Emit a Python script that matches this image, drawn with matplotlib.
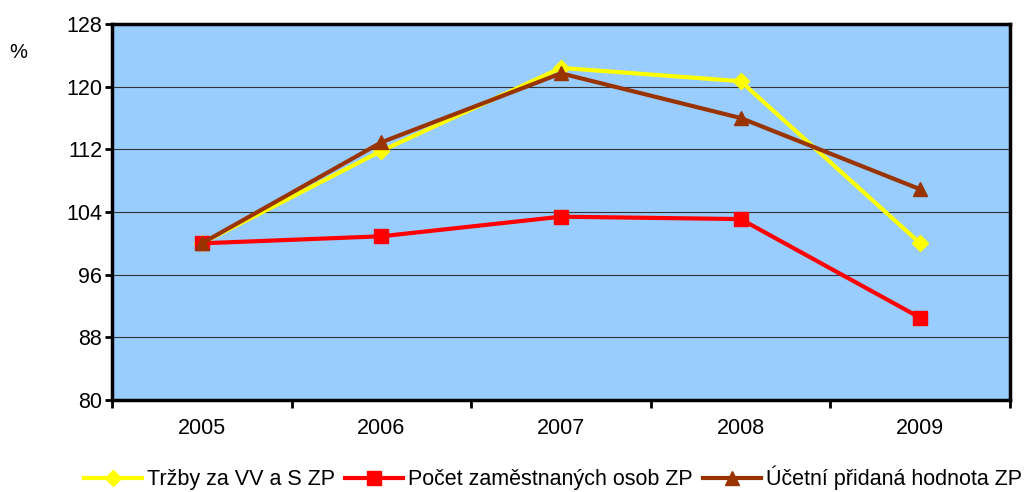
import matplotlib
matplotlib.use("Agg")
import matplotlib.pyplot as plt
from matplotlib.ticker import MultipleLocator

plt.rcParams['font.family'] = ['Liberation Sans', 'DejaVu Sans']

years = ["2005", "2006", "2007", "2008", "2009"]
trzby = [100.0, 111.8, 122.4, 120.7, 100.0]
pocet = [100.0, 100.9, 103.4, 103.1, 90.5]
pridana = [100.0, 112.9, 121.7, 116.0, 106.9]
labels = ["Tržby za VV a S ZP", "Počet zaměstnaných osob ZP", "Účetní přidaná hodnota ZP"]

fig = plt.figure(figsize=(10.32, 4.92), dpi=100)
ax = fig.add_axes([112/1032, 1-400/492, (1010-112)/1032, (400-24)/492])
ax.set_facecolor("#99CCFF")

x = list(range(len(years)))
ax.plot(x, trzby, color="#FFFF00", lw=3, marker="D", ms=8, label=labels[0], zorder=3)
ax.plot(x, pocet, color="#FF0000", lw=3, marker="s", ms=9.5, label=labels[1], zorder=4)
ax.plot(x, pridana, color="#993300", lw=3, marker="^", ms=10, label=labels[2], zorder=5)

ax.set_xlim(-0.5, len(years) - 0.5)
ax.set_ylim(80, 128)
ax.yaxis.set_major_locator(MultipleLocator(8))
ax.grid(axis="y", color="#333333", lw=0.8)
ax.set_axisbelow(True)

ax.set_xticks([i - 0.5 for i in range(len(years) + 1)])
ax.set_xticklabels([])
ax.set_xticks(x, minor=True)
ax.set_xticklabels(years, minor=True)
ax.tick_params(axis="x", which="minor", length=0, pad=13, labelsize=15.5)
ax.tick_params(axis="x", which="major", length=6, width=2, direction="out")
ax.tick_params(axis="y", length=5, width=2, labelsize=15.5, pad=2)

for s in ax.spines.values():
    s.set_linewidth(2.5)
    s.set_color("black")

fig.text(18/1032, 1-52/492, "%", fontsize=14.5, ha="center", va="center")

fig.legend(loc="center", bbox_to_anchor=(553/1032, 1-478/492), ncol=3, frameon=False,
           fontsize=15.5, handlelength=2.7, handletextpad=0.25, columnspacing=0.45,
           borderaxespad=0)

fig.savefig("out.png", dpi=100)
